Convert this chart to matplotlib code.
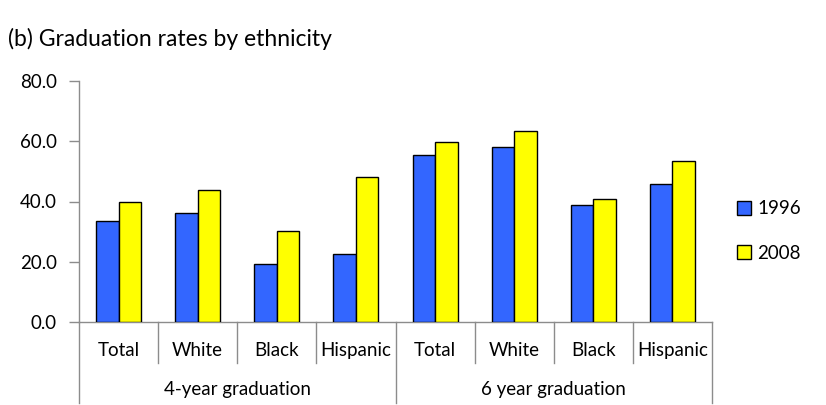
import matplotlib
matplotlib.use("Agg")
import matplotlib.pyplot as plt
import numpy as np

plt.rcParams['font.family'] = ['Lato', 'DejaVu Sans']

categories = ["Total", "White", "Black", "Hispanic", "Total", "White", "Black", "Hispanic"]
groups = ["4-year graduation", "6 year graduation"]
group_size = 4
values_1996 = [33.5, 36.2, 19.3, 22.6, 55.5, 58.1, 38.9, 45.8]
values_2008 = [39.9, 43.9, 30.2, 48.2, 59.8, 63.5, 40.9, 53.5]
series_names = ["1996", "2008"]
yticks = [0, 20, 40, 60, 80]

blue = "#3366FF"
yellow = "#FFFF00"
axis_gray = "#8C8C8C"

fig = plt.figure(figsize=(8.26, 4.05), dpi=100)
ax = fig.add_axes([79/826, 1-322/405, (712-79)/826, (322-81)/405])

n = len(categories)
x = np.arange(n)
w = 0.285
b1 = ax.bar(x - w/2, values_1996, w, color=blue, edgecolor="black", linewidth=1.0, label=series_names[0], zorder=3)
b2 = ax.bar(x + w/2, values_2008, w, color=yellow, edgecolor="black", linewidth=1.0, label=series_names[1], zorder=3)

ax.set_xlim(-0.5, n - 0.5)
ax.set_ylim(0, 80)
ax.set_yticks(yticks)
ax.set_yticklabels([f"{v:.1f}" for v in yticks], fontsize=13.5)
ax.tick_params(axis='y', direction='out', length=7, width=1, color=axis_gray, pad=9)
ax.set_xticks([])
for s in ["top", "right"]:
    ax.spines[s].set_visible(False)
for s in ["left", "bottom"]:
    ax.spines[s].set_color(axis_gray)
    ax.spines[s].set_linewidth(1)

trans = ax.get_xaxis_transform()
# separators
for i in range(n + 1):
    xb = i - 0.5
    outer = (i % group_size == 0)
    ybot = -0.335 if outer else -0.170
    ax.plot([xb, xb], [0, ybot], transform=trans, color=axis_gray, lw=1, clip_on=False)
for i, c in enumerate(categories):
    ax.text(i, -0.12, c, transform=trans, ha="center", va="center", fontsize=13.5)
for g, name in enumerate(groups):
    cx = g * group_size + (group_size - 1) / 2
    ax.text(cx, -0.28, name, transform=trans, ha="center", va="center", fontsize=13.5)

fig.text(8/826, 1-39/405, "(b) Graduation rates by ethnicity", ha="left", va="center", fontsize=16.5)

leg = fig.legend(handles=[b1, b2], labels=series_names, loc="center left",
                 bbox_to_anchor=(720/826, 1-231/405), frameon=False, fontsize=13.5,
                 handlelength=0.75, handleheight=0.75, labelspacing=1.45, handletextpad=0.35)

fig.savefig("out.png", dpi=100)
